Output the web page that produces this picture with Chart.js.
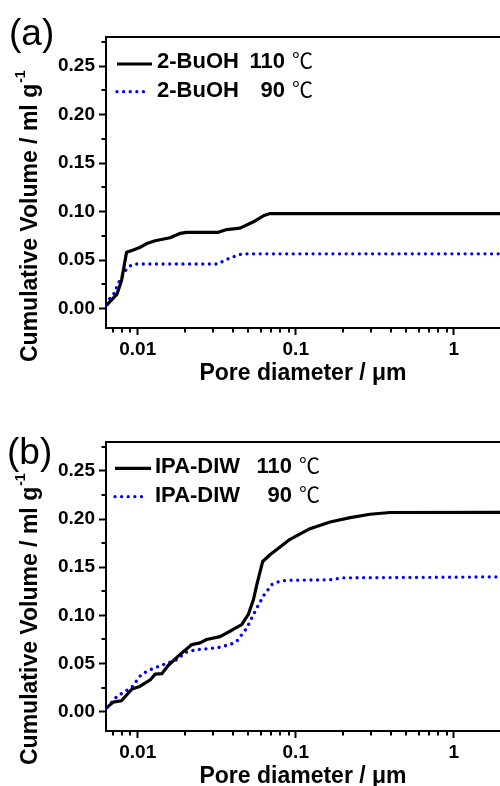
<!DOCTYPE html>
<html>
<head>
<meta charset="utf-8">
<script src="https://cdn.jsdelivr.net/npm/chart.js@4.4.1/dist/chart.umd.min.js"></script>
<style>
  body { margin: 0; background: #fff; width: 500px; height: 786px; overflow: hidden; }
  .panel { position: absolute; left: 0; width: 500px; height: 393px; }
</style>
</head>
<body>
<div class="panel" style="top:0"><canvas id="chartA" width="500" height="393"></canvas></div>
<div class="panel" style="top:393px"><canvas id="chartB" width="500" height="393"></canvas></div>
<script>
"use strict";

// tick positions
const X_TICKS = [0.007, 0.008, 0.009, 0.01, 0.02, 0.03, 0.04, 0.05, 0.06, 0.07, 0.08, 0.09,
  0.1, 0.2, 0.3, 0.4, 0.5, 0.6, 0.7, 0.8, 0.9, 1];
const X_MAJOR = [0.01, 0.1, 1];
const Y_TICKS = [0, 0.025, 0.05, 0.075, 0.1, 0.125, 0.15, 0.175, 0.2, 0.225, 0.25, 0.275];
const Y_MAJOR = [0, 0.05, 0.1, 0.15, 0.2, 0.25];
const X_TITLE = "Pore diameter / \u03bcm";
const Y_TITLE = "Cumulative Volume / ml g";

// (a) 2-BuOH
const bu110X = [0.0064, 0.0074, 0.0079, 0.0085, 0.0092, 0.0103, 0.0114, 0.0129, 0.016, 0.0185,
  0.0204, 0.032, 0.0366, 0.0444, 0.054, 0.0624, 0.0687, 0.075, 1.96];
const bu110Y = [0.004, 0.015, 0.029, 0.058, 0.060, 0.063, 0.067, 0.070, 0.073, 0.0775,
  0.0785, 0.0785, 0.0815, 0.083, 0.0895, 0.0957, 0.098, 0.098, 0.098];
const bu90X = [0.0064, 0.0067, 0.0072, 0.0074, 0.0078, 0.0085, 0.0092, 0.0099, 0.032, 0.0357,
  0.0403, 0.0455, 0.05, 1.96];
const bu90Y = [0.004, 0.0116, 0.0168, 0.0237, 0.0305, 0.041, 0.0453, 0.046, 0.046, 0.050,
  0.0535, 0.0563, 0.0565, 0.0565];

// (b) IPA-DIW
const ipa110X = [0.0064, 0.0070, 0.0079, 0.0092, 0.0103, 0.0120, 0.0129, 0.0142, 0.0156, 0.0181,
  0.0220, 0.0248, 0.0273, 0.0332, 0.0394, 0.0455, 0.0501, 0.054, 0.0567, 0.0618, 0.0687, 0.092,
  0.123, 0.165, 0.221, 0.295, 0.395, 1.96];
const ipa110Y = [0.0045, 0.010, 0.0114, 0.0236, 0.0263, 0.033, 0.039, 0.0395, 0.048, 0.058,
  0.0697, 0.0715, 0.075, 0.078, 0.0846, 0.0905, 0.101, 0.1165, 0.132, 0.156, 0.163, 0.179,
  0.190, 0.197, 0.2015, 0.205, 0.2068, 0.207];
const ipa90X = [0.0064, 0.0074, 0.0085, 0.0094, 0.0099, 0.0106, 0.0123, 0.0149, 0.0177, 0.020,
  0.0236, 0.0316, 0.0384, 0.0423, 0.049, 0.0552, 0.0623, 0.0705, 0.0795, 0.092, 0.165, 0.2, 1.96];
const ipa90Y = [0.0045, 0.016, 0.022, 0.027, 0.033, 0.039, 0.0444, 0.0496, 0.054, 0.0617,
  0.0645, 0.0663, 0.0697, 0.073, 0.087, 0.104, 0.120, 0.132, 0.1356, 0.1365, 0.137, 0.139, 0.140];

const FONT = '"Liberation Sans", Arial, sans-serif';
Chart.defaults.font.family = FONT;
Chart.defaults.color = "#000";

function toPoints(xs, ys) {
  return xs.map(function (x, i) { return { x: x, y: ys[i] }; });
}

function solidSet(name, temp, xs, ys) {
  return {
    label: name + " " + temp + " \u2103", legendName: name, legendTemp: temp,
    data: toPoints(xs, ys), borderColor: "#000", borderWidth: 3.2,
    pointRadius: 0, tension: 0, borderJoinStyle: "round"
  };
}
function dottedSet(name, temp, xs, ys) {
  return {
    label: name + " " + temp + " \u2103", legendName: name, legendTemp: temp,
    data: toPoints(xs, ys), borderColor: "#0000ff", borderWidth: 3.3,
    borderDash: [0.01, 6.6], borderCapStyle: "round",
    pointRadius: 0, tension: 0
  };
}

// frame top line, minor ticks, axis titles, panel letter and legend
const decorPlugin = {
  id: "decor",
  afterDraw(chart, args, o) {
    const ctx = chart.ctx;
    const a = chart.chartArea;
    const xs = chart.scales.x, ys = chart.scales.y;
    ctx.save();
    ctx.strokeStyle = "#000";
    ctx.lineWidth = 2;
    ctx.beginPath();
    ctx.moveTo(a.left - 1, a.top);
    ctx.lineTo(a.right, a.top);
    xs.ticks.forEach(function (t) {
      if (t.major) return;
      const px = Math.round(xs.getPixelForValue(t.value));
      ctx.moveTo(px, a.bottom);
      ctx.lineTo(px, a.bottom + 4.5);
    });
    ys.ticks.forEach(function (t) {
      if (t.major) return;
      const py = Math.round(ys.getPixelForValue(t.value));
      ctx.moveTo(a.left, py);
      ctx.lineTo(a.left - 4.5, py);
    });
    ctx.stroke();

    ctx.fillStyle = "#000";
    ctx.textBaseline = "alphabetic";
    ctx.textAlign = "left";
    ctx.font = "37px " + FONT;
    ctx.fillText(o.letter, o.letterX, o.letterY);

    ctx.font = "bold 23px " + FONT;
    ctx.textAlign = "center";
    ctx.fillText(X_TITLE, (a.left + a.right) / 2, o.xTitleY);

    ctx.save();
    ctx.translate(o.yTitleX, o.yTitleBottom);
    ctx.rotate(-Math.PI / 2);
    ctx.textAlign = "left";
    ctx.fillText(Y_TITLE, 0, 0);
    const w = ctx.measureText(Y_TITLE).width;
    ctx.font = "bold 14px " + FONT;
    ctx.fillText("-1", w + 1, -12);
    ctx.restore();

    const lg = o.legend;
    chart.data.datasets.forEach(function (ds, i) {
      const ly = a.top + lg.lineY[i];
      const by = a.top + lg.baseY[i];
      const x1 = a.left + lg.lineX1;
      const x2 = ds.borderDash ? x1 + 28 : a.left + lg.lineX2;
      ctx.save();
      ctx.strokeStyle = ds.borderColor;
      ctx.lineWidth = ds.borderWidth;
      ctx.setLineDash(ds.borderDash || []);
      ctx.lineCap = ds.borderCapStyle || "butt";
      ctx.beginPath();
      ctx.moveTo(x1, ly);
      ctx.lineTo(x2, ly);
      ctx.stroke();
      ctx.restore();
      ctx.font = "bold 22px " + FONT;
      ctx.textAlign = "left";
      ctx.fillText(ds.legendName, a.left + lg.textX, by);
      ctx.textAlign = "right";
      ctx.fillText(ds.legendTemp, a.left + lg.numRight, by);
      ctx.textAlign = "left";
      ctx.font = '21px "Noto Sans CJK SC", ' + FONT;
      ctx.fillText("\u2103", a.left + lg.numRight + 7, by);
    });
    ctx.restore();
  }
};

function makeChart(id, datasets, decor, padTop, xAxisH) {
  const ctx = document.getElementById(id).getContext("2d");
  return new Chart(ctx, {
    type: "line",
    data: { datasets: datasets },
    options: {
      responsive: false,
      animation: false,
      layout: { padding: { top: padTop, left: 0, right: 0, bottom: 0 } },
      plugins: {
        legend: { display: false },
        tooltip: { enabled: false },
        decor: decor
      },
      scales: {
        x: {
          type: "logarithmic",
          min: 0.0063,
          max: 1.96,
          afterBuildTicks: function (scale) {
            scale.ticks = X_TICKS.map(function (v) {
              return { value: v, major: X_MAJOR.indexOf(v) >= 0 };
            });
          },
          afterFit: function (scale) { scale.height = xAxisH; },
          ticks: {
            autoSkip: false,
            maxRotation: 0,
            padding: 3,
            font: { size: 19, weight: "bold" },
            callback: function (value) {
              return X_MAJOR.indexOf(value) >= 0 ? String(value) : "";
            }
          },
          grid: {
            drawOnChartArea: false,
            tickLength: 7,
            tickWidth: 2,
            tickColor: function (c) {
              return c.tick && c.tick.major ? "#000" : "rgba(0,0,0,0)";
            }
          },
          border: { color: "#000", width: 2 }
        },
        y: {
          type: "linear",
          min: -0.02,
          max: 0.28,
          afterBuildTicks: function (scale) {
            scale.ticks = Y_TICKS.map(function (v) {
              return { value: v, major: Y_MAJOR.indexOf(v) >= 0 };
            });
          },
          afterFit: function (scale) { scale.width = 106; },
          ticks: {
            autoSkip: false,
            padding: 4,
            font: { size: 19, weight: "bold" },
            callback: function (value) {
              return Y_MAJOR.indexOf(value) >= 0 ? value.toFixed(2) : "";
            }
          },
          grid: {
            drawOnChartArea: false,
            tickLength: 7,
            tickWidth: 2,
            tickColor: function (c) {
              return c.tick && c.tick.major ? "#000" : "rgba(0,0,0,0)";
            }
          },
          border: { color: "#000", width: 2 }
        }
      }
    },
    plugins: [decorPlugin]
  });
}

makeChart("chartA", [
  solidSet("2-BuOH", "110", bu110X, bu110Y),
  dottedSet("2-BuOH", "90", bu90X, bu90Y)
], {
  letter: "(a)", letterX: 9, letterY: 45,
  xTitleY: 380, yTitleX: 37, yTitleBottom: 362,
  legend: { lineX1: 11, lineX2: 46, textX: 51, numRight: 179, lineY: [27, 54.7], baseY: [31.3, 59.7] }
}, 37, 65);

makeChart("chartB", [
  solidSet("IPA-DIW", "110", ipa110X, ipa110Y),
  dottedSet("IPA-DIW", "90", ipa90X, ipa90Y)
], {
  letter: "(b)", letterX: 7, letterY: 71,
  xTitleY: 390, yTitleX: 37, yTitleBottom: 372,
  legend: { lineX1: 9, lineX2: 45, textX: 49, numRight: 186, lineY: [26.3, 54.7], baseY: [31.3, 59.7] }
}, 49, 55);
</script>
</body>
</html>
